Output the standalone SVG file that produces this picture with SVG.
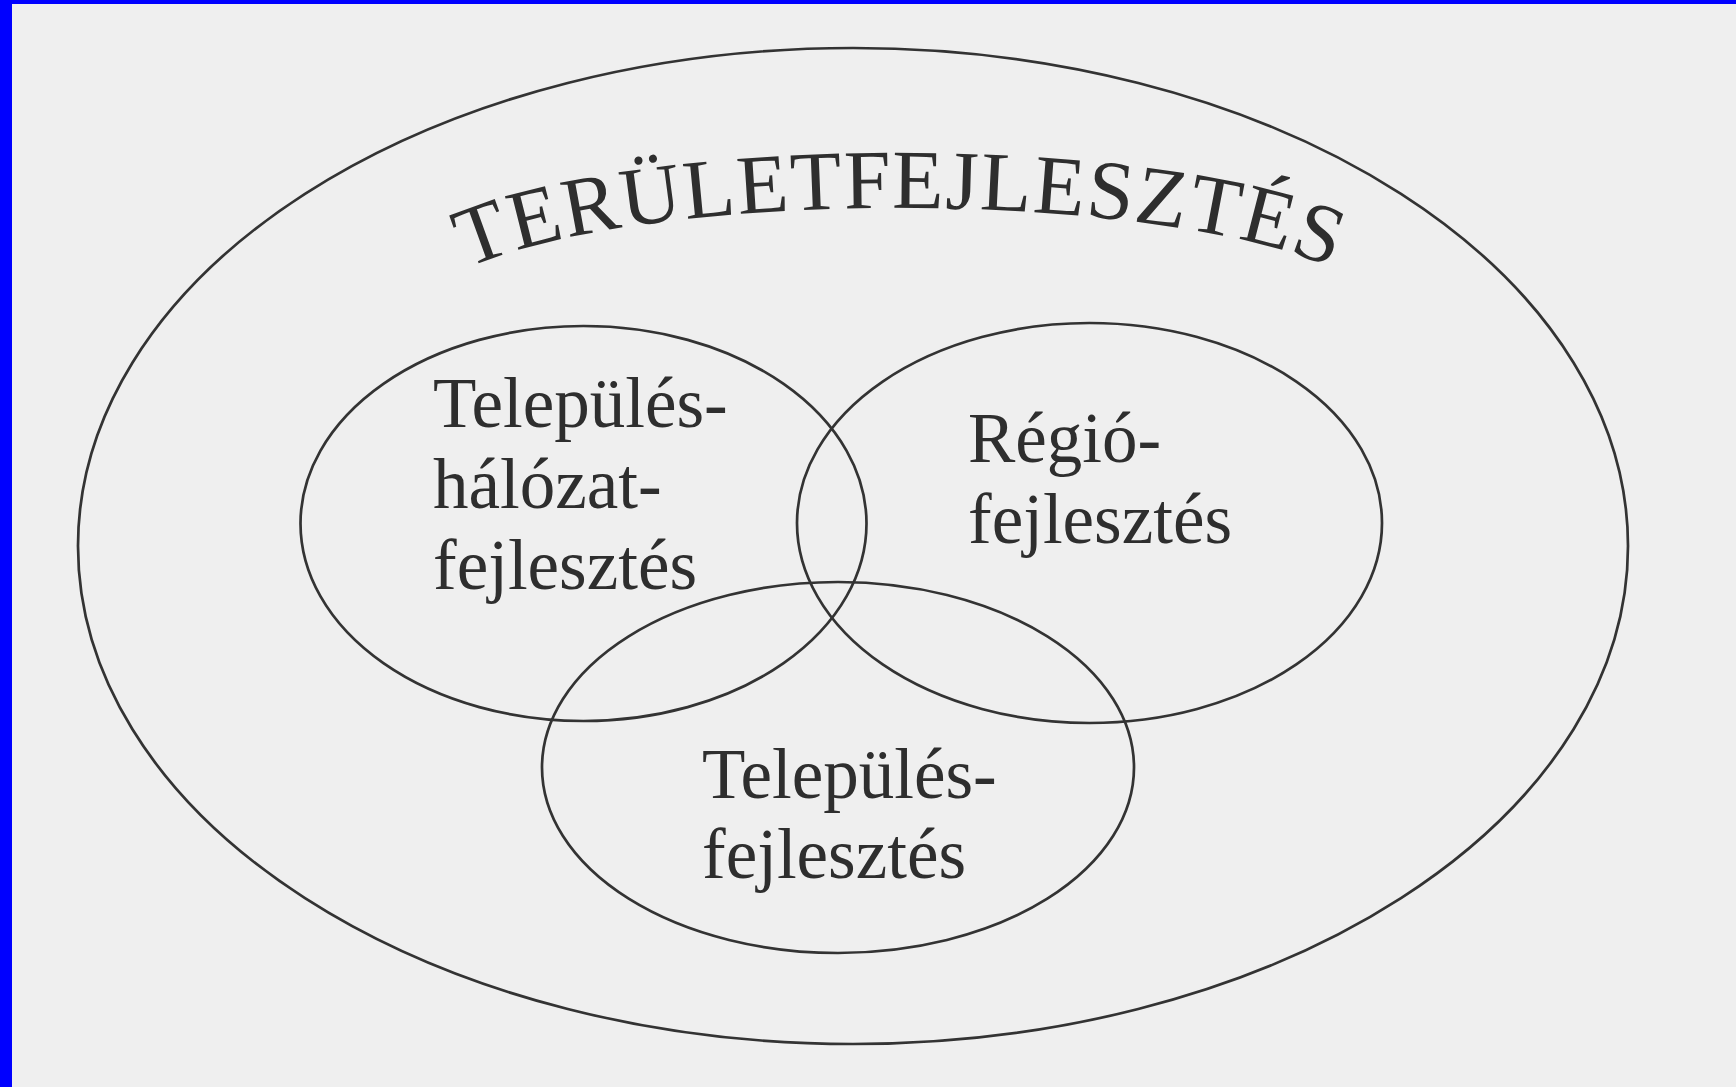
<svg xmlns="http://www.w3.org/2000/svg" width="1736" height="1087" viewBox="0 0 1736 1087">
<style>
.ring{fill:none;stroke:#333;stroke-width:2.7}
.lbl{font-family:"Liberation Serif","Times New Roman",serif;font-size:71px;fill:#2e2e2e}
.title{font-family:"Liberation Serif","Times New Roman",serif;font-size:84px;fill:#2e2e2e;letter-spacing:1.5px}
</style>
<defs>
<path id="arc" d="M 420 315 A 480 107 0 0 1 1380 315"/>
</defs>
<rect x="0" y="0" width="1736" height="1087" fill="#efefef"/>
<rect x="0" y="0" width="12" height="1087" fill="#0000ff"/>
<rect x="0" y="0" width="1736" height="4" fill="#0000ff"/>
<g id="teruletfejlesztes">
<ellipse class="ring" cx="853" cy="546" rx="775" ry="498"/>
<text class="title"><textPath href="#arc" startOffset="50%" text-anchor="middle">TERÜLETFEJLESZTÉS</textPath></text>
</g>
<g id="telepuleshalozat">
<ellipse class="ring" cx="583.5" cy="523.5" rx="283" ry="197.5"/>
<text class="lbl" x="433" y="427">Település-</text>
<text class="lbl" x="433" y="508">hálózat-</text>
<text class="lbl" x="433" y="589">fejlesztés</text>
</g>
<g id="regiofejlesztes">
<ellipse class="ring" cx="1089.5" cy="523" rx="292.5" ry="200"/>
<text class="lbl" x="968" y="462">Régió-</text>
<text class="lbl" x="968" y="543">fejlesztés</text>
</g>
<g id="telepulesfejlesztes">
<ellipse class="ring" cx="838" cy="767.5" rx="296" ry="185.5"/>
<text class="lbl" x="702" y="798">Település-</text>
<text class="lbl" x="702" y="878">fejlesztés</text>
</g>
<g id="connectors"/>
</svg>
